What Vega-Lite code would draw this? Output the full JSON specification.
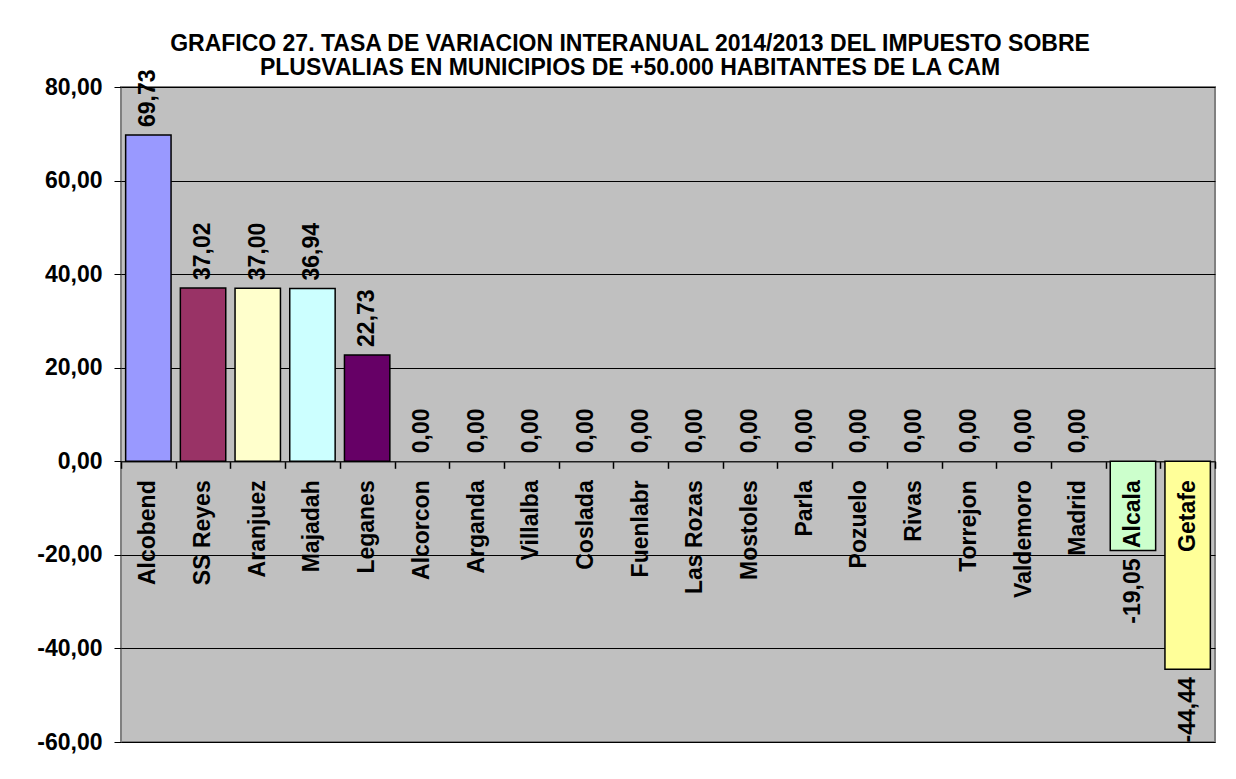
{
  "$schema": "https://vega.github.io/schema/vega-lite/v6.json",
  "width": 1094,
  "height": 655,
  "autosize": {"type": "none"},
  "padding": {"left": 121, "top": 87, "right": 21, "bottom": 37},
  "background": "white",
  "config": {
    "locale": {"number": {"decimal": ",", "thousands": ".", "grouping": [3], "currency": ["", " €"], "minus": "-"}},
    "font": "Liberation Sans",
    "view": {"fill": "#C0C0C0", "stroke": "#808080", "strokeWidth": 2},
    "text": {"font": "Liberation Sans", "fontSize": 23, "fontWeight": "bold", "color": "black"}
  },
  "title": {
    "text": ["GRAFICO 27. TASA DE VARIACION INTERANUAL 2014/2013 DEL IMPUESTO SOBRE", "PLUSVALIAS EN MUNICIPIOS DE +50.000 HABITANTES DE LA CAM"],
    "font": "Liberation Sans",
    "fontSize": 23,
    "fontWeight": "bold",
    "color": "black",
    "anchor": "middle",
    "lineHeight": 24,
    "offset": -11,
    "dx": -38
  },
  "data": {
    "values": [
      {"municipio": "Alcobend", "valor": 69.73},
      {"municipio": "SS Reyes", "valor": 37.02},
      {"municipio": "Aranjuez", "valor": 37.00},
      {"municipio": "Majadah", "valor": 36.94},
      {"municipio": "Leganes", "valor": 22.73},
      {"municipio": "Alcorcon", "valor": 0},
      {"municipio": "Arganda", "valor": 0},
      {"municipio": "Villalba", "valor": 0},
      {"municipio": "Coslada", "valor": 0},
      {"municipio": "Fuenlabr", "valor": 0},
      {"municipio": "Las Rozas", "valor": 0},
      {"municipio": "Mostoles", "valor": 0},
      {"municipio": "Parla", "valor": 0},
      {"municipio": "Pozuelo", "valor": 0},
      {"municipio": "Rivas", "valor": 0},
      {"municipio": "Torrejon", "valor": 0},
      {"municipio": "Valdemoro", "valor": 0},
      {"municipio": "Madrid", "valor": 0},
      {"municipio": "Alcala", "valor": -19.05},
      {"municipio": "Getafe", "valor": -44.44}
    ]
  },
  "encoding": {
    "x": {
      "field": "municipio",
      "type": "nominal",
      "sort": null,
      "scale": {"paddingInner": 0, "paddingOuter": 0},
      "axis": {
        "orient": "bottom",
        "offset": -280.7,
        "title": null,
        "labels": false,
        "domain": true,
        "domainColor": "#202020",
        "domainWidth": 1.5,
        "ticks": true,
        "tickBand": "extent",
        "tickSize": 7,
        "tickColor": "black",
        "tickWidth": 1.5,
        "grid": false
      }
    },
    "y": {
      "field": "valor",
      "type": "quantitative",
      "scale": {"domain": [-60, 80], "nice": false, "zero": false},
      "axis": {
        "title": null,
        "values": [-60, -40, -20, 0, 20, 40, 60, 80],
        "format": ".2f",
        "labelFont": "Liberation Sans",
        "labelFontSize": 23,
        "labelFontWeight": "bold",
        "labelColor": "black",
        "labelPadding": 12,
        "tickSize": 7,
        "tickColor": "black",
        "tickWidth": 1,
        "domain": false,
        "grid": true,
        "gridColor": "black",
        "gridWidth": 1,
        "gridOpacity": 1
      }
    }
  },
  "layer": [
    {
      "mark": {"type": "bar", "width": {"band": 0.83}, "stroke": "black"},
      "encoding": {
        "strokeWidth": {"condition": {"test": "datum.valor == 0", "value": 0}, "value": 1.5},
        "color": {
          "field": "municipio",
          "type": "nominal",
          "legend": null,
          "scale": {
            "domain": ["Alcobend", "SS Reyes", "Aranjuez", "Majadah", "Leganes", "Alcorcon", "Arganda", "Villalba", "Coslada", "Fuenlabr", "Las Rozas", "Mostoles", "Parla", "Pozuelo", "Rivas", "Torrejon", "Valdemoro", "Madrid", "Alcala", "Getafe"],
            "range": ["#9999FF", "#993366", "#FFFFCC", "#CCFFFF", "#660066", "#FF8080", "#0066CC", "#CCCCFF", "#000080", "#FF00FF", "#FFFF00", "#00FFFF", "#800080", "#800000", "#008080", "#0000FF", "#00CCFF", "#CCFFFF", "#CCFFCC", "#FFFF99"]
          }
        }
      }
    },
    {
      "transform": [{"filter": "datum.valor >= 0"}],
      "mark": {"type": "text", "angle": 270, "align": "left", "baseline": "middle", "dx": 8},
      "encoding": {"text": {"field": "valor", "type": "quantitative", "format": ".2f"}}
    },
    {
      "transform": [{"filter": "datum.valor < 0"}],
      "mark": {"type": "text", "angle": 270, "align": "right", "baseline": "middle", "dx": -8},
      "encoding": {"text": {"field": "valor", "type": "quantitative", "format": ".2f"}}
    },
    {
      "mark": {"type": "text", "angle": 270, "align": "right", "baseline": "middle", "dx": -19},
      "encoding": {
        "y": {"datum": 0, "type": "quantitative"},
        "text": {"field": "municipio", "type": "nominal"}
      }
    }
  ]
}
